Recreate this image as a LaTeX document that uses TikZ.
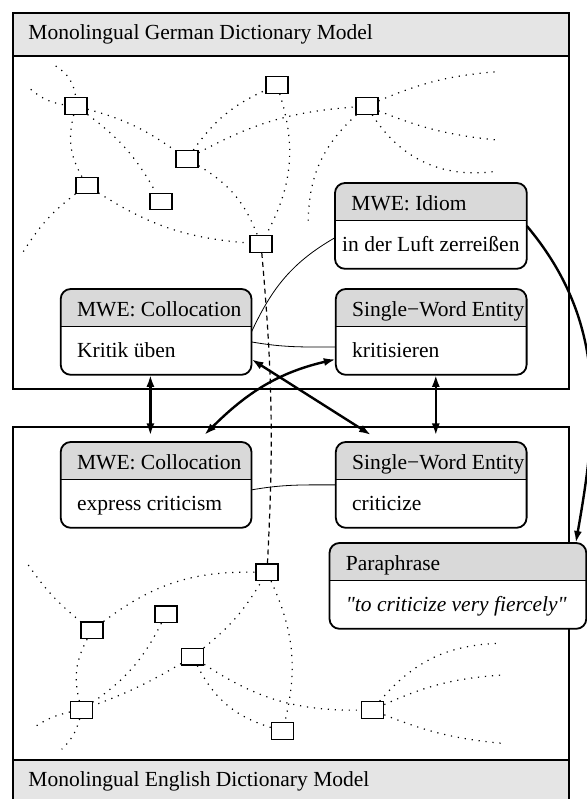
\documentclass[tikz,border=0pt]{standalone}
\usepackage{fontspec}
\setmainfont{Liberation Serif}
\newfontfamily\plainserif{Liberation Serif}
\usepackage{tikz}
\usetikzlibrary{calc,arrows.meta}
\usepackage{xcolor}
\definecolor{hdrgray}{gray}{0.90}
\definecolor{nodegray}{gray}{0.85}
\newcommand{\entryh}{42.5pt}
\newcommand{\hdrh}{18.75pt}
\newcommand{\crad}{5pt}
\newcommand{\entry}[6][8pt]{
  \node[entrybox,minimum width=#4] (#2) at (#3) {};
  \fill[white,rounded corners=\crad] (#2.north west) rectangle (#2.south east);
  \begin{scope}
    \clip[rounded corners=\crad] (#2.north west) rectangle (#2.south east);
    \fill[nodegray] (#2.north west) rectangle ($(#2.north east)+(0pt,-\hdrh)$);
  \end{scope}
  \draw[frame,rounded corners=\crad] (#2.north west) rectangle (#2.south east);
  \draw[frame] ($(#2.north west)+(0pt,-\hdrh)$) -- ($(#2.north east)+(0pt,-\hdrh)$);
  \node[anchor=base west,inner sep=0pt] (#2-h) at ($(#2.north west)+(8pt,-14pt)$) {#5};
  \node[anchor=base west,inner sep=0pt] (#2-b) at ($(#2.north west)+(#1,-34.25pt)$) {#6};
}
\tikzset{
  frame/.style={line width=0.9pt},
  entrybox/.style={rectangle,inner sep=0pt,minimum height=\entryh,anchor=north west},
  sq/.style={draw,fill=white,rectangle,minimum width=11pt,minimum height=8.25pt,inner sep=0pt,line width=0.6pt},
  rel/.style={line width=0.6pt,dash pattern=on 0.6pt off 2.9pt},
  refline/.style={line width=0.6pt,dash pattern=on 2.5pt off 2pt},
  link/.style={line width=1.2pt,<->,>={Latex[length=6pt,width=4pt]}},
  onelink/.style={line width=1.2pt,->,>={Latex[length=6pt,width=4pt]}}
}

\begin{document}
\begin{tikzpicture}[x=0.5pt,y=0.5pt,font=\fontsize{10.75}{13}\selectfont]
\useasboundingbox (0,0) rectangle (587,799);

% german model
\filldraw[frame,fill=hdrgray] (13,786) rectangle (569,743);
\draw[frame] (13,786) rectangle (569,410);
\node[anchor=base west,inner sep=0pt] (detitle) at (28,759) {Monolingual German Dictionary Model};

% english model
\draw[frame] (13,372) rectangle (569,-4);
\filldraw[frame,fill=hdrgray] (13,39) rectangle (569,-4);
\node[anchor=base west,inner sep=0pt] (entitle) at (28,12) {Monolingual English Dictionary Model};

\node[sq] (de1) at (76,693) {};
\node[sq] (de2) at (277,714) {};
\node[sq] (de3) at (367,693) {};
\node[sq] (de4) at (187,640) {};
\node[sq] (de5) at (87,613.5) {};
\node[sq] (de6) at (161,597.5) {};
\node[sq] (de7) at (261,555) {};
\coordinate (de-a) at (55.7,733);
\coordinate (de-b) at (30.7,709.7);
\coordinate (de-c) at (23.3,547.3);
\coordinate (de-d) at (496.7,727.3);
\coordinate (de-e) at (496.7,659);
\coordinate (de-f) at (493.3,627.3);
\coordinate (de-g) at (308.3,574);

\node[sq] (en1) at (267,226.7) {};
\node[sq] (en2) at (92,168.7) {};
\node[sq] (en3) at (166,184.7) {};
\node[sq] (en4) at (192.7,142.3) {};
\node[sq] (en5) at (81.5,89) {};
\node[sq] (en6) at (282.7,68) {};
\node[sq] (en7) at (372.7,89) {};
\coordinate (en-a) at (28.3,234);
\coordinate (en-b) at (35,72.3);
\coordinate (en-c) at (61.7,49.7);
\coordinate (en-d) at (500,155.7);
\coordinate (en-e) at (501.7,124);
\coordinate (en-f) at (501.7,55.7);

\draw[rel] (de-a) to[bend left=25] (de1);
\draw[rel] (de-b) to[bend right=15] (de1);
\draw[rel] (de1) to[bend right=22] (de5);
\draw[rel] (de1) to[bend left=10] (de4);
\draw[rel] (de1) to[bend left=12] (de6);
\draw[rel] (de4) to[bend left=15] (de2);
\draw[rel] (de4) to[bend left=12] (de3);
\draw[rel] (de4) to[bend left=19] (de7);
\draw[rel] (de2) to[bend left=23] (de7);
\draw[rel] (de5) to[bend right=10] (de-c);
\draw[rel] (de5) to[bend right=14] (de7);
\draw[rel] (de3) to[bend left=9] (de-d);
\draw[rel] (de3) to[bend right=8] (de-e);
\draw[rel] (de3) to[bend right=32] (de-f);
\draw[rel] (de3) to[bend right=24] (de-g);

\draw[rel] (en-a) to[bend right=8] (en2);
\draw[rel] (en2) to[bend left=19] (en1);
\draw[rel] (en2) to[bend right=21] (en5);
\draw[rel] (en3) to[bend left=14] (en5);
\draw[rel] (en4) to[bend left=5] (en5);
\draw[rel] (en4) to[bend right=10] (en1);
\draw[rel] (en1) to[bend left=19] (en6);
\draw[rel] (en4) to[bend right=23] (en6);
\draw[rel] (en4) to[bend right=17] (en7);
\draw[rel] (en5) to[bend right=10] (en-b);
\draw[rel] (en5) to[bend left=15] (en-c);
\draw[rel] (en7) to[bend left=24] (en-d);
\draw[rel] (en7) to[bend left=10] (en-e);
\draw[rel] (en7) to[bend right=8] (en-f);

\draw[refline] (de7) to[bend left=4] (en1);

\entry{colde}{60.7,510}{95pt}{MWE: Collocation}{Kritik üben}
\entry{swde}{335.8,510}{95pt}{Single−Word Entity}{kritisieren}
\entry[3.4pt]{idiom}{335,616}{95.5pt}{MWE: Idiom}{in der Luft zerreißen}
\entry{colen}{60.7,357}{95pt}{MWE: Collocation}{express criticism}
\entry{swen}{335.8,357}{95pt}{Single−Word Entity}{criticize}
\entry{para}{329.5,256}{128pt}{Paraphrase}{{\plainserif\itshape "to criticize very fiercely"}}

\draw (colde.east) to[out=65,in=210] (idiom.187);
\draw (colde.-6) to[out=-10,in=180] (swde.189);
\draw (colen.-3) to[out=10,in=180] (swen.west);

\draw[link] ([xshift=-2.85pt]colde.south) -- ([xshift=-2.85pt,yshift=3.25pt]colen.north);
\draw[link] ([xshift=2.3pt]swde.south) -- ([xshift=2.3pt,yshift=3.25pt]swen.north);
\draw[link] (colde.-16) -- ([xshift=-30.1pt,yshift=3.5pt]swen.north);
\draw[link] ([xshift=24.15pt,yshift=3.5pt]colen.north) to[out=45,in=193] (swde.196);
\draw[onelink] (idiom.east) to[out=-50,in=80] ([xshift=-5.25pt]para.north east);

\end{tikzpicture}
\end{document}
